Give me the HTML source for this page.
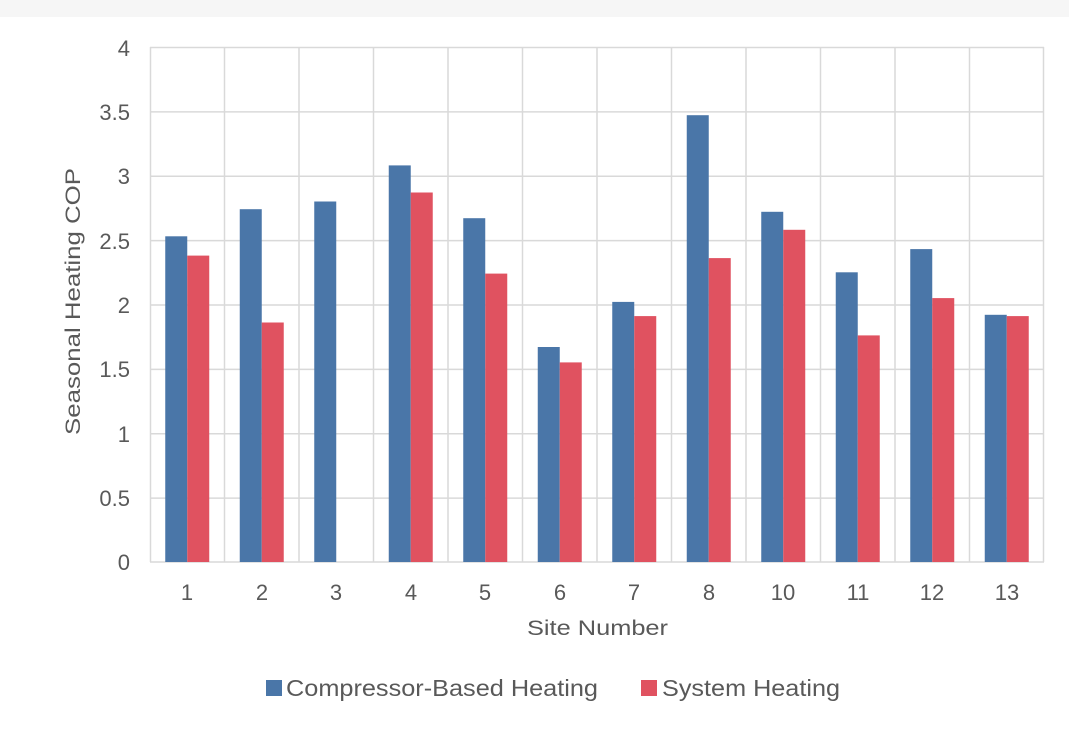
<!DOCTYPE html>
<html><head><style>body{margin:0;background:#fff}svg{display:block}text{font-family:"Liberation Sans",sans-serif;fill:#595959}</style></head><body>
<svg width="1069" height="731" xmlns="http://www.w3.org/2000/svg">
<rect x="0" y="0" width="1069" height="17" fill="#f6f6f6"/>
<g stroke="#d9d9d9" stroke-width="1.5">
<line x1="150" y1="47.5" x2="1044" y2="47.5"/><line x1="150" y1="111.9" x2="1044" y2="111.9"/><line x1="150" y1="176.3" x2="1044" y2="176.3"/><line x1="150" y1="240.6" x2="1044" y2="240.6"/><line x1="150" y1="305" x2="1044" y2="305"/><line x1="150" y1="369.4" x2="1044" y2="369.4"/><line x1="150" y1="433.8" x2="1044" y2="433.8"/><line x1="150" y1="498.1" x2="1044" y2="498.1"/><line x1="150" y1="562" x2="1044" y2="562"/>
<line x1="150.5" y1="47" x2="150.5" y2="562"/><line x1="224.5" y1="47" x2="224.5" y2="562"/><line x1="299" y1="47" x2="299" y2="562"/><line x1="373.5" y1="47" x2="373.5" y2="562"/><line x1="448" y1="47" x2="448" y2="562"/><line x1="522.5" y1="47" x2="522.5" y2="562"/><line x1="597" y1="47" x2="597" y2="562"/><line x1="671.5" y1="47" x2="671.5" y2="562"/><line x1="746" y1="47" x2="746" y2="562"/><line x1="820.5" y1="47" x2="820.5" y2="562"/><line x1="895" y1="47" x2="895" y2="562"/><line x1="969.5" y1="47" x2="969.5" y2="562"/><line x1="1043.5" y1="47" x2="1043.5" y2="562"/>
</g>
<g font-size="22" text-anchor="end">
<text x="130" y="56">4</text><text x="130" y="120">3.5</text><text x="130" y="184">3</text><text x="130" y="249">2.5</text><text x="130" y="313">2</text><text x="130" y="377">1.5</text><text x="130" y="442">1</text><text x="130" y="506">0.5</text><text x="130" y="570">0</text>
</g>
<g fill="#4a76a8">
<rect x="165.25" y="236.3" width="22" height="325.7"/>
<rect x="239.75" y="209.2" width="22" height="352.8"/>
<rect x="314.25" y="201.5" width="22" height="360.5"/>
<rect x="388.75" y="165.4" width="22" height="396.6"/>
<rect x="463.25" y="218.2" width="22" height="343.8"/>
<rect x="537.75" y="347" width="22" height="215"/>
<rect x="612.25" y="301.9" width="22" height="260.1"/>
<rect x="686.75" y="115.2" width="22" height="446.8"/>
<rect x="761.25" y="211.8" width="22" height="350.2"/>
<rect x="835.75" y="272.3" width="22" height="289.7"/>
<rect x="910.25" y="249.1" width="22" height="312.9"/>
<rect x="984.75" y="314.8" width="22" height="247.2"/>
</g>
<g fill="#e05260">
<rect x="187.25" y="255.6" width="22" height="306.4"/>
<rect x="261.75" y="322.5" width="22" height="239.5"/>
<rect x="410.75" y="192.5" width="22" height="369.5"/>
<rect x="485.25" y="273.6" width="22" height="288.4"/>
<rect x="559.75" y="362.4" width="22" height="199.6"/>
<rect x="634.25" y="316.1" width="22" height="245.9"/>
<rect x="708.75" y="258.1" width="22" height="303.9"/>
<rect x="783.25" y="229.8" width="22" height="332.2"/>
<rect x="857.75" y="335.4" width="22" height="226.6"/>
<rect x="932.25" y="298.1" width="22" height="263.9"/>
<rect x="1006.75" y="316.1" width="22" height="245.9"/>
</g>
<g font-size="22" text-anchor="middle">
<text x="187" y="600">1</text><text x="262" y="600">2</text><text x="336" y="600">3</text><text x="411" y="600">4</text><text x="485" y="600">5</text><text x="560" y="600">6</text><text x="634" y="600">7</text><text x="709" y="600">8</text><text x="783" y="600">10</text><text x="858" y="600">11</text><text x="932" y="600">12</text><text x="1007" y="600">13</text>
</g>
<text x="527" y="635" font-size="21" textLength="141" lengthAdjust="spacingAndGlyphs">Site Number</text>
<text transform="translate(80,435) rotate(-90)" font-size="21" textLength="267" lengthAdjust="spacingAndGlyphs">Seasonal Heating COP</text>
<rect x="266" y="680" width="16" height="16" fill="#4a76a8"/>
<text x="286" y="696" font-size="23" textLength="312" lengthAdjust="spacingAndGlyphs">Compressor-Based Heating</text>
<rect x="641" y="680" width="16" height="16" fill="#e05260"/>
<text x="662" y="696" font-size="23" textLength="178" lengthAdjust="spacingAndGlyphs">System Heating</text>
</svg>
</body></html>
